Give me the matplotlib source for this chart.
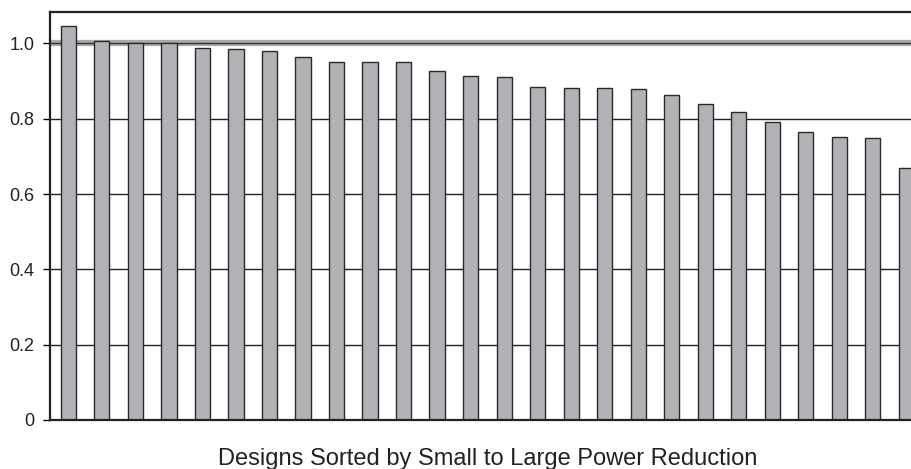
import matplotlib
matplotlib.use('Agg')
import matplotlib.pyplot as plt
import numpy as np

plt.rcParams['font.family'] = ['Liberation Sans', 'DejaVu Sans']

# normalized power, designs sorted by small to large power reduction
designs = list(range(26))
power = [1.046, 1.007, 1.000, 1.000, 0.989, 0.984, 0.981, 0.963, 0.952, 0.952,
         0.950, 0.928, 0.914, 0.910, 0.885, 0.881, 0.881, 0.878, 0.864, 0.840,
         0.818, 0.792, 0.766, 0.752, 0.748, 0.670]
yticks = [0, 0.2, 0.4, 0.6, 0.8, 1.0]
ytick_labels = ['0', '0.2', '0.4', '0.6', '0.8', '1.0']
baseline = 1.0

fig = plt.figure(figsize=(9.11, 4.69), dpi=100)
ax = fig.add_axes([0.0549, 0.1045, 0.96, 0.87])

# grid lines behind bars
for t in yticks[1:-1]:
    ax.axhline(t, color='#222222', lw=1.0, zorder=1)

# reference line at 1.0 (under the bars)
ax.axhline(baseline, color='#a9aaad', lw=4.5, zorder=1)
ax.axhline(baseline, color='#333333', lw=1.0, zorder=1.5)

ax.bar(designs, power, width=0.45, color='#b1b2b5', edgecolor='#2a2a2a',
       linewidth=1.0, zorder=2)

ax.set_xlim(-0.55, 25.55)
ax.set_ylim(0, 1.0837)
ax.set_yticks(yticks)
ax.set_yticklabels(ytick_labels, fontsize=13, color='#222222')
ax.set_xticks([])
ax.tick_params(axis='y', direction='out', length=5, width=1, pad=6)

for s in ['top', 'left', 'bottom']:
    ax.spines[s].set_linewidth(1.6)
    ax.spines[s].set_color('#222222')
ax.spines['right'].set_visible(False)

ax.set_xlabel('Designs Sorted by Small to Large Power Reduction', fontsize=17,
              color='#222222', labelpad=20)

fig.savefig('out.png', dpi=100)
